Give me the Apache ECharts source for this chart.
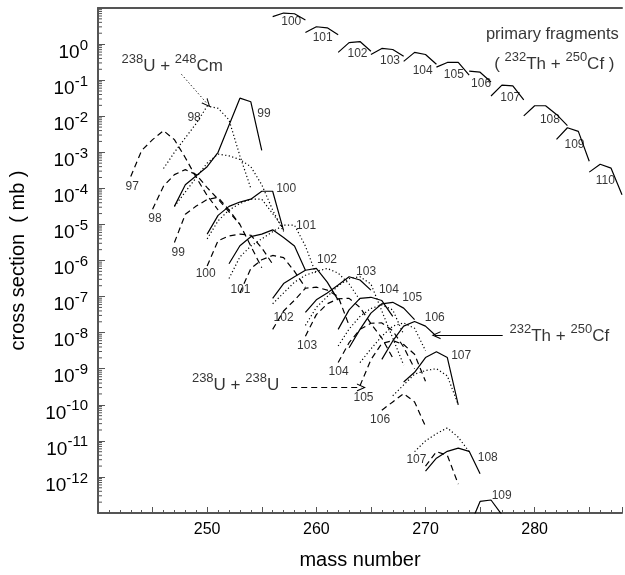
<!DOCTYPE html>
<html><head><meta charset="utf-8">
<script src="https://cdn.jsdelivr.net/npm/echarts@6/dist/echarts.min.js"></script>
<style>html,body{margin:0;padding:0;background:#fff}#c{width:625px;height:575px}</style>
</head><body><div id="c"></div>
<script>
// values: [mass number, log10(cross section / mb)]
// 232Th + 250Cf (solid)
const th99  = [[247,-4.5],[248,-3.9],[249,-3.65],[250,-3.4],[251,-3.0],[252,-2.25],[253,-1.5],[254,-1.6],[255,-2.95]];
const th100 = [[250,-5.27],[251,-4.75],[252,-4.5],[253,-4.38],[254,-4.3],[255,-4.08],[256,-4.08],[257,-5.17]];
const th101 = [[252,-6.09],[253,-5.59],[254,-5.34],[255,-5.27],[256,-5.15],[257,-5.36],[258,-5.6],[259,-6.27]];
const th102 = [[256,-7.05],[257,-6.64],[258,-6.45],[259,-6.27],[260,-6.22],[261,-6.6],[262,-7.1]];
const th103 = [[259,-7.44],[260,-7.09],[261,-6.9],[262,-6.68],[263,-6.45],[264,-6.54],[265,-6.82]];
const th104 = [[262,-7.91],[263,-7.37],[264,-7.05],[265,-7.02],[266,-7.11],[267,-7.55]];
const th105 = [[263,-8.42],[264,-7.91],[265,-7.46],[266,-7.2],[267,-7.16],[268,-7.32],[269,-7.64]];
const th106 = [[266,-8.74],[267,-8.23],[268,-7.82],[269,-7.69],[270,-7.82],[271,-8.1]];
const th107 = [[268,-9.37],[269,-9.1],[270,-8.69],[271,-8.53],[272,-8.69],[273,-10.0]];
const th108 = [[270,-11.84],[271,-11.48],[272,-11.29],[273,-11.2],[274,-11.29],[275,-11.91]];
const th109 = [[274,-13.4],[275,-12.68],[276,-12.64],[277,-13.05]];
// 238U + 238U (dashed)
const uu97  = [[243,-3.67],[244,-2.95],[245,-2.65],[246,-2.4],[247,-2.65],[248,-3.15],[249,-3.7],[250,-4.2],[251,-4.6]];
const uu98  = [[245,-4.58],[246,-3.94],[247,-3.62],[248,-3.48],[249,-3.62],[250,-3.98],[251,-4.3],[252,-4.65],[253,-5.0]];
const uu99  = [[247,-5.5],[248,-4.72],[249,-4.49],[250,-4.31],[251,-4.25],[252,-4.6],[253,-5.0],[254,-5.6],[255,-6.2]];
const uu100 = [[250,-6.15],[251,-5.45],[252,-5.32],[253,-5.27],[254,-5.3],[255,-5.65],[256,-6.1]];
const uu101 = [[253,-6.9],[254,-6.22],[255,-5.98],[256,-5.86],[257,-5.92],[258,-6.3],[259,-6.75]];
const uu102 = [[256,-7.91],[257,-7.4],[258,-7.1],[259,-6.77],[260,-6.74],[261,-6.82],[262,-7.0],[263,-7.8]];
const uu103 = [[259,-8.1],[260,-7.5],[261,-7.2],[262,-7.06],[263,-7.05],[264,-7.3],[265,-7.75],[266,-8.15],[267,-8.7]];
const uu104 = [[262,-8.83],[263,-8.28],[264,-7.91],[265,-7.74],[266,-7.73],[267,-7.95],[268,-8.4],[269,-9.0]];
const uu105 = [[264,-9.47],[265,-8.75],[266,-8.3],[267,-8.22],[268,-8.33],[269,-8.6],[270,-9.35]];
const uu106 = [[266,-10.15],[267,-9.92],[268,-9.69],[269,-9.92],[270,-10.6]];
const uu107 = [[270,-11.7],[271,-11.3],[272,-11.4],[273,-12.2]];
// 238U + 248Cm (dotted)
const cm98  = [[246,-3.45],[247,-3.0],[248,-2.6],[249,-2.2],[250,-1.72],[251,-1.78],[252,-2.1],[253,-3.1],[254,-4.0]];
const cm99  = [[247,-4.5],[248,-4.1],[249,-3.7],[250,-3.3],[251,-3.05],[252,-3.1],[253,-3.2],[254,-3.4],[255,-3.9],[256,-4.6],[257,-5.2]];
const cm100 = [[250,-5.4],[251,-4.9],[252,-4.6],[253,-4.42],[254,-4.3],[255,-4.3],[256,-4.7],[257,-5.1]];
const cm101 = [[252,-6.5],[253,-5.9],[254,-5.6],[255,-5.4],[256,-5.2],[257,-5.02],[258,-5.02],[259,-5.6],[260,-6.4]];
const cm102 = [[256,-7.2],[257,-6.9],[258,-6.6],[259,-6.41],[260,-6.3],[261,-6.22],[262,-6.35],[263,-6.65],[264,-7.1]];
const cm103 = [[259,-7.8],[260,-7.3],[261,-7.0],[262,-6.7],[263,-6.5],[264,-6.45],[265,-6.65],[266,-7.4],[267,-8.15],[268,-8.9]];
const cm104 = [[262,-8.37],[263,-7.9],[264,-7.55],[265,-7.33],[266,-7.23],[267,-7.37],[268,-8.05]];
const cm105 = [[264,-8.83],[265,-8.45],[266,-8.1],[267,-7.82],[268,-7.73],[269,-7.88],[270,-8.5]];
const cm106 = [[267,-9.75],[268,-9.45],[269,-9.15],[270,-9.05],[271,-9.0],[272,-9.2],[273,-10.0]];
const cm107 = [[269,-11.3],[270,-11.0],[271,-10.8],[272,-10.64],[273,-10.9],[274,-11.3]];
// primary fragments 232Th + 250Cf (solid, top)
const pf100 = [[256,0.76],[257,0.86],[258,0.84],[259,0.67]];
const pf101 = [[259,0.32],[260,0.48],[261,0.45],[262,0.26]];
const pf102 = [[262,-0.23],[263,0.04],[264,0.07],[265,-0.2]];
const pf103 = [[265,-0.29],[266,-0.12],[267,-0.15],[268,-0.34]];
const pf104 = [[268,-0.48],[269,-0.23],[270,-0.29],[271,-0.56]];
const pf105 = [[271,-0.64],[272,-0.51],[273,-0.51],[274,-0.86]];
const pf106 = [[274,-0.75],[275,-0.78],[276,-1.05]];
const pf107 = [[276,-1.44],[277,-1.14],[278,-1.16],[279,-1.55]];
const pf108 = [[279,-1.99],[280,-1.71],[281,-1.71],[282,-1.95],[283,-2.26]];
const pf109 = [[282,-2.64],[283,-2.32],[284,-2.42],[285,-3.25]];
const pf110 = [[285,-3.55],[286,-3.33],[287,-3.44],[288,-4.18]];

// curve labels: [mass, log10 sigma, text]
const solidLabels  = [[255.2,-1.93,'99'],[257.24,-4.0,'100'],[259.06,-5.04,'101'],[260.98,-5.99,'102'],[264.56,-6.32,'103'],[266.65,-6.8,'104'],[268.78,-7.02,'105'],[270.85,-7.59,'106'],[273.27,-8.63,'107'],[275.7,-11.46,'108'],[276.98,-12.53,'109']];
const dashedLabels = [[243.13,-3.94,'97'],[245.22,-4.85,'98'],[247.35,-5.77,'99'],[249.86,-6.36,'100'],[253.05,-6.82,'101'],[257.0,-7.59,'102'],[259.15,-8.37,'103'],[262.04,-9.07,'104'],[264.32,-9.79,'105'],[265.84,-10.42,'106'],[269.17,-11.52,'107']];
const dottedLabels = [[248.8,-2.05,'98']];
const primaryLabels = [[257.7,0.61,'100'],[260.58,0.17,'101'],[263.77,-0.27,'102'],[266.75,-0.45,'103'],[269.74,-0.73,'104'],[272.6,-0.84,'105'],[275.09,-1.11,'106'],[277.76,-1.5,'107'],[281.4,-2.1,'108'],[283.65,-2.8,'109'],[286.48,-3.8,'110']];

// annotation texts and arrows
const noteCm = [246.8,-0.56];
const notePrimary1 = [281.62,0.27];
const notePrimary2 = [281.8,-0.5];
const noteTh = [282.26,-8.03];
const noteUU = [252.6,-9.4];
const arrowCm = [[247.65,-0.84],[250.02,-1.66]];
const arrowTh = [[277.07,-8.07],[270.97,-8.07]];
const arrowUU = [[257.7,-9.52],[264.13,-9.52]];

const xTickLabels = [250,260,270,280];
const yLabelExp = [0,-1,-2,-3,-4,-5,-6,-7,-8,-9,-10,-11,-12];

const FONT = "'Liberation Sans', Arial, sans-serif";
const NARROW = "'Liberation Sans Narrow', 'Liberation Sans', Arial, sans-serif";
const AX = '#555';
const toPts = a => a.map(p => [p[0], Math.pow(10, p[1])]);

const series = [];
function addCurve(pts, style) {
  series.push({type:'line', data:toPts(pts), symbol:'none', silent:true, clip:true,
    lineStyle:{color:'#000', width:1.2, type: style==='solid' ? 'solid' : style==='dashed' ? [6,4] : [1.2,2.4]}});
}
[th99,th100,th101,th102,th103,th104,th105,th106,th107,th108,th109].forEach(c=>addCurve(c,'solid'));
[uu97,uu98,uu99,uu100,uu101,uu102,uu103,uu104,uu105,uu106,uu107].forEach(c=>addCurve(c,'dashed'));
[cm98,cm99,cm100,cm101,cm102,cm103,cm104,cm105,cm106,cm107].forEach(c=>addCurve(c,'dotted'));
[pf100,pf101,pf102,pf103,pf104,pf105,pf106,pf107,pf108,pf109,pf110].forEach(c=>addCurve(c,'solid'));

function addLabels(arr, size) {
  series.push({type:'scatter', symbolSize:1, itemStyle:{color:'rgba(0,0,0,0)'}, silent:true,
    data: arr.map(l => [l[0], Math.pow(10,l[1]), l[2]]),
    label:{show:true, position:'inside', formatter:p=>p.value[2], color:'#000', fontSize:size, fontFamily:NARROW}});
}
addLabels(solidLabels, 12); addLabels(dashedLabels, 12); addLabels(dottedLabels, 12); addLabels(primaryLabels, 12);

const rich = {
  b:{fontSize:17, fontFamily:FONT, color:'#000', verticalAlign:'bottom', lineHeight:22},
  s:{fontSize:13, fontFamily:FONT, color:'#000', verticalAlign:'top', lineHeight:22},
  p:{fontSize:16.5, fontFamily:FONT, color:'#000'}
};
function addNote(pos, text) {
  series.push({type:'scatter', symbolSize:1, itemStyle:{color:'rgba(0,0,0,0)'}, silent:true,
    data:[[pos[0], Math.pow(10,pos[1])]],
    label:{show:true, position:'inside', formatter:text, rich:rich}});
}
addNote(noteCm, '{s|238}{b|U + }{s|248}{b|Cm}');
addNote(notePrimary1, '{p|primary fragments}');
addNote(notePrimary2, '{b|( }{s|232}{b|Th + }{s|250}{b|Cf )}');
addNote(noteTh, '{s|232}{b|Th + }{s|250}{b|Cf}');
addNote(noteUU, '{s|238}{b|U + }{s|238}{b|U}');

const chevron = 'path://M5,0 L10,10 L8.6,10 L5,2.8 L1.4,10 L0,10 Z';
function addArrow(a, type) {
  series.push({type:'line', data:[], markLine:{silent:true, animation:false, symbol:['none', chevron], symbolSize:[8,9],
    label:{show:false}, lineStyle:{color:'#000', width:1, type:type},
    data:[[{coord:[a[0][0], Math.pow(10,a[0][1])]},{coord:[a[1][0], Math.pow(10,a[1][1])]}]]}});
}
addArrow(arrowCm, [1.2,2.4]); addArrow(arrowTh, 'solid'); addArrow(arrowUU, [6,4]);

// log minor ticks on the y axis
const minorVals = [];
for (let e = -13; e <= 0; e++) for (let k = 2; k <= 9; k++) minorVals.push([240, k*Math.pow(10,e)]);
series.push({type:'custom', silent:true, data:minorVals, renderItem:(params, api) => {
  const p = api.coord([api.value(0), api.value(1)]);
  return {type:'line', shape:{x1:p[0], y1:p[1], x2:p[0]+4, y2:p[1]}, style:{stroke:AX, lineWidth:1}};
}});

const chart = echarts.init(document.getElementById('c'), null, {renderer:'canvas'});
chart.setOption({
  animation:false,
  backgroundColor:'#fff',
  grid:{left:98, right:0, top:8, bottom:56, containLabel:false},
  xAxis:[{type:'value', min:240, max:288, interval:5,
    name:'mass number', nameLocation:'middle', nameGap:37,
    nameTextStyle:{fontSize:20, fontFamily:FONT, color:'#000'},
    axisLine:{show:true, lineStyle:{color:AX, width:2}},
    axisTick:{show:true, inside:true, length:6, lineStyle:{color:AX}},
    minorTick:{show:true, splitNumber:5, length:3, lineStyle:{color:AX}},
    splitLine:{show:false}, minorSplitLine:{show:false},
    axisLabel:{fontSize:16, fontFamily:FONT, color:'#000', margin:9,
      formatter:v => xTickLabels.includes(v) ? String(v) : ''}},
   {type:'value', position:'top', min:240, max:288,
    axisLine:{show:true, lineStyle:{color:AX, width:2}}, axisTick:{show:false}, axisLabel:{show:false}, splitLine:{show:false}}],
  yAxis:{type:'log', logBase:10, min:1e-13, max:10, interval:1, splitNumber:14,
    name:'cross section  ( mb )', nameLocation:'middle', nameGap:70,
    nameTextStyle:{fontSize:20, fontFamily:FONT, color:'#000'},
    axisLine:{show:true, lineStyle:{color:AX, width:2}},
    axisTick:{show:true, inside:true, length:7, lineStyle:{color:AX}},
    splitLine:{show:false},
    axisLabel:{margin:10, padding:[12,0,0,0], formatter:v => {const e = Math.round(Math.log10(v)); return yLabelExp.includes(e) ? '{b|10}{s|' + e + '}' : '';},
      rich:{b:{fontSize:19, fontFamily:FONT, color:'#000', verticalAlign:'bottom', lineHeight:24},
            s:{fontSize:15, fontFamily:FONT, color:'#000', verticalAlign:'top', lineHeight:24}}}},
  series:series
});
</script></body></html>
